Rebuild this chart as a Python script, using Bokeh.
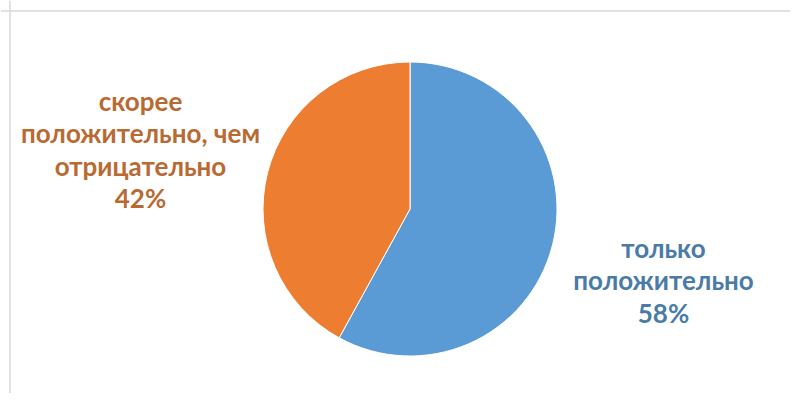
import math
from bokeh.plotting import figure
from bokeh.models import Range1d, Span, ColumnDataSource
from bokeh.core.properties import value
from bokeh.embed import file_html
from bokeh.resources import INLINE

# Data
categories = ["только положительно", "скорее положительно, чем отрицательно"]
shares = [58, 42]
label_texts = ["только\nположительно\n58%", "скорее\nположительно, чем\nотрицательно\n42%"]
slice_colors = ["#5B9BD5", "#ED7D31"]
label_colors = ["#4A7BA7", "#B96A33"]

W, H = 790, 393
p = figure(width=W, height=H, output_backend="svg", toolbar_location=None,
           x_range=Range1d(0, W), y_range=Range1d(0, H), min_border=0)
p.axis.visible = False
p.grid.visible = False
p.outline_line_color = None
p.background_fill_color = "white"

# chart frame (top & left edges visible)
p.add_layout(Span(location=H - 10.5, dimension="width", line_color="#D9D9D9", line_width=1.5))
p.add_layout(Span(location=9.5, dimension="height", line_color="#D9D9D9", line_width=1.5))

cx, cy, r = 409.5, H - 208.5, 147
total = sum(shares)
starts, ends = [], []
a = math.pi / 2
for s in shares:
    starts.append(a)
    a -= 2 * math.pi * s / total
    ends.append(a)

src = ColumnDataSource(dict(cat=categories, start=starts, end=ends, color=slice_colors))
p.wedge(x=cx, y=cy, radius=r, start_angle="start", end_angle="end", direction="clock",
        fill_color="color", line_color="white", line_width=1, source=src)

lab = ColumnDataSource(dict(x=[663, 140], y=[H - 280, H - 149], text=label_texts, color=label_colors))
p.text(x="x", y="y", text="text", source=lab, text_color="color",
       text_font=value("Lato"), text_font_style="bold", text_font_size="26px",
       text_align="center", text_baseline="middle", text_line_height=1.02)

open("out.html", "w").write(file_html(p, INLINE))
